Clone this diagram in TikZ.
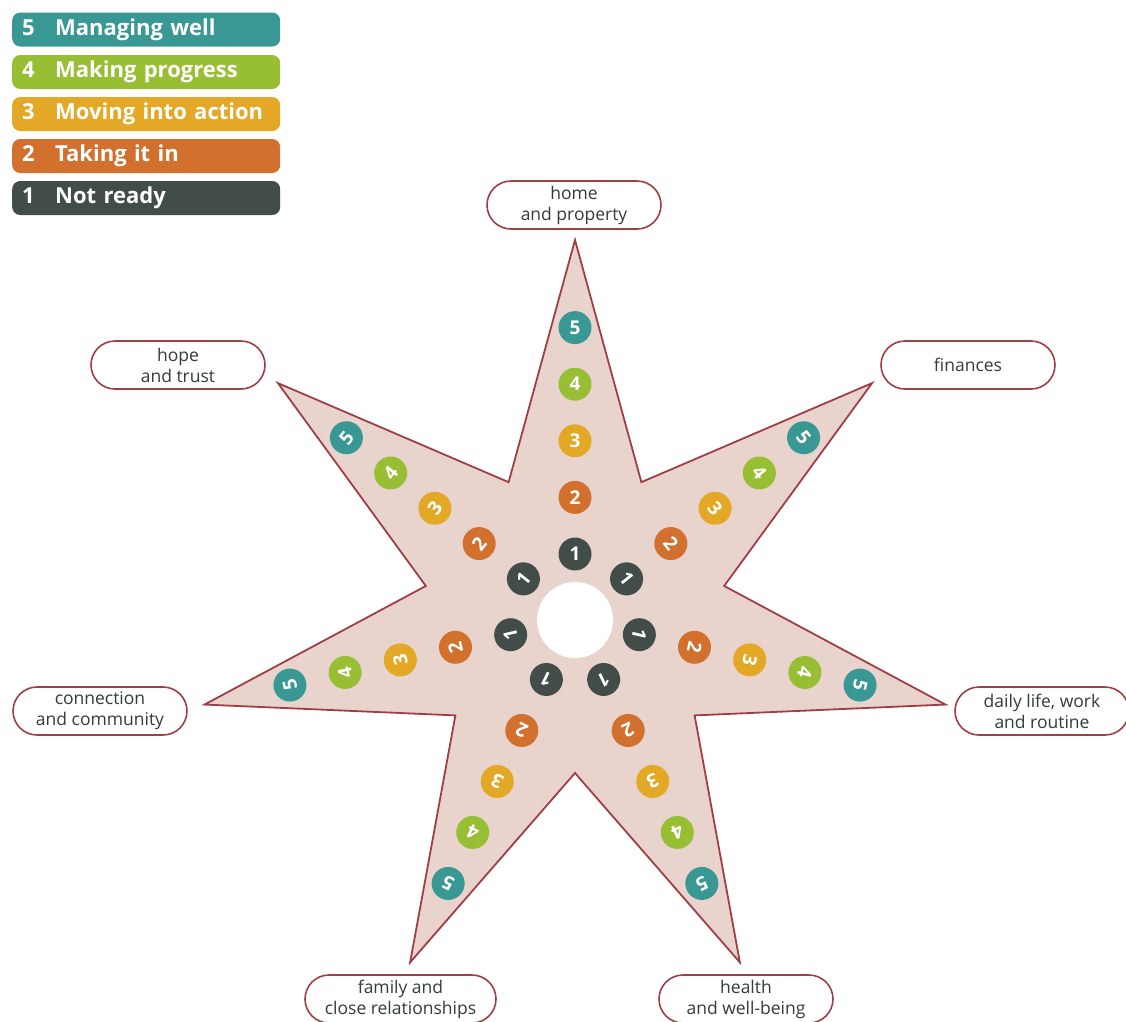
\documentclass[tikz,border=0pt]{standalone}
\usepackage{fontspec}
\setmainfont{Open Sans}
\usetikzlibrary{shapes.misc}
\definecolor{cfive}{RGB}{58,152,148}
\definecolor{cfour}{RGB}{152,190,52}
\definecolor{cthree}{RGB}{226,168,38}
\definecolor{ctwo}{RGB}{210,112,46}
\definecolor{cone}{RGB}{66,76,73}
\definecolor{starfill}{RGB}{232,212,205}
\definecolor{starline}{RGB}{160,62,70}
\definecolor{txt}{RGB}{50,60,56}
\tikzset{
  legendbox/.style={anchor=west, rounded corners=8pt, minimum width=268pt, minimum height=34pt,
    text=white, font=\fontsize{22}{24}\selectfont\bfseries, inner xsep=10pt, align=left, text width=248pt},
  starshape/.style={draw=starline, fill=starfill, line width=1.8pt, line join=miter},
  numdot/.style={circle, minimum size=33pt, inner sep=0pt, text=white, font=\fontsize{19}{19}\selectfont\bfseries},
  labelbox/.style={rounded rectangle, draw=starline, line width=1.6pt, fill=white, minimum width=178pt,
    minimum height=48pt, inner sep=2pt, align=center, text=txt, font=\fontsize{17.5}{21}\selectfont},
  hub/.style={circle, fill=white, minimum size=76pt, inner sep=0pt}
}
\begin{document}
\begin{tikzpicture}[x=1pt,y=-1pt]
\useasboundingbox (0,0) rectangle (1126,1021);
% legend
\node[legendbox, fill=cfive]  (l5) at (12,29.5) {\makebox[33pt][l]{5}Managing well};
\node[legendbox, fill=cfour]  (l4) at (12,72)   {\makebox[33pt][l]{4}Making progress};
\node[legendbox, fill=cthree] (l3) at (12,114)  {\makebox[33pt][l]{3}Moving into action};
\node[legendbox, fill=ctwo]   (l2) at (12,156)  {\makebox[33pt][l]{2}Taking it in};
\node[legendbox, fill=cone]   (l1) at (12,198)  {\makebox[33pt][l]{1}Not ready};
% star
\begin{scope}[shift={(575,620)}]
\draw[starshape] (-90:380)
  \foreach \k in {0,...,6} { -- ({-90+(\k+0.5)*360/7}:153) -- ({-90+(\k+1)*360/7}:380) } -- cycle;
\node[hub] (hub) at (0,0) {};
\foreach \k in {0,...,6} {
  \foreach \n/\c in {1/cone,2/ctwo,3/cthree,4/cfour,5/cfive} {
    \node[numdot, fill=\c, rotate={-\k*360/7}] (d\k-\n) at ({-90+\k*360/7}:{66+56.6*(\n-1)}) {\n};
  }
}
\end{scope}
% labels
\node[labelbox] (home) at (574,205) {home\\and property};
\node[labelbox] (fin) at (968,365) {finances};
\node[labelbox] (daily) at (1042,711) {daily life, work\\and routine};
\node[labelbox] (health) at (746,999) {health\\and well-being};
\node[labelbox, minimum width=195pt] (family) at (400.5,999) {family and\\close relationships};
\node[labelbox] (conn) at (100,711) {connection\\and community};
\node[labelbox] (hope) at (178,365) {hope\\and trust};
\end{tikzpicture}
\end{document}
